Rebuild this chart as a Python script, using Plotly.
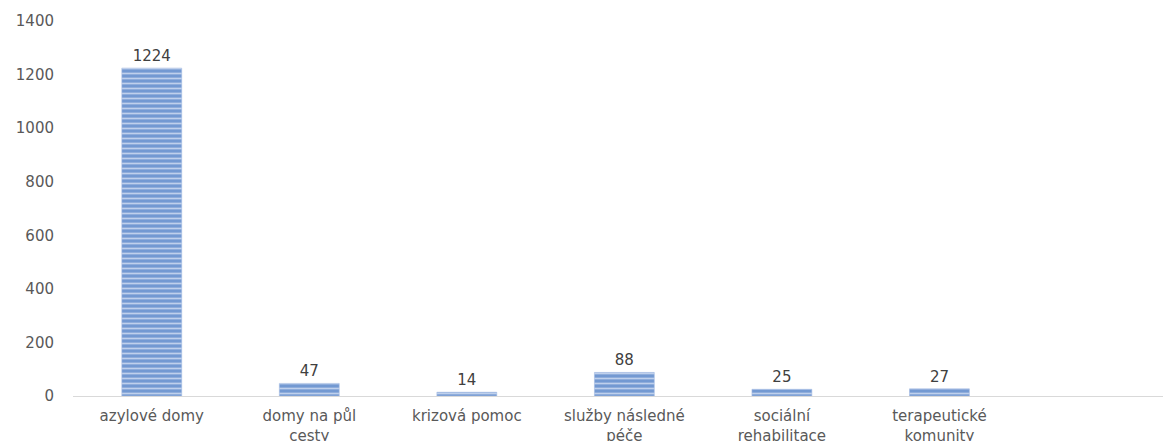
import plotly.graph_objects as go

categories = ["azylové domy", "domy na půl<br>cesty", "krizová pomoc", "služby následné<br>péče",
              "sociální<br>rehabilitace", "terapeutické<br>komunity"]
values = [1224, 47, 14, 88, 25, 27]
y_ticks = [0, 200, 400, 600, 800, 1000, 1200, 1400]

font_family = "DejaVu Sans"

fig = go.Figure()
fig.add_trace(go.Bar(
    x=categories,
    y=values,
    width=0.38,
    text=[str(v) for v in values],
    textposition="outside",
    textfont=dict(family=font_family, size=15, color="#404040"),
    cliponaxis=False,
    marker=dict(
        color="#789dd4",
        line=dict(color="#a3bbe2", width=0.6),
        pattern=dict(shape="-", bgcolor="#7399d2", fgcolor="#bfd0ec",
                     size=5, solidity=0.35, fillmode="replace"),
    ),
))

# page body has an 8px margin, so the figure is sized/offset to compensate
fig.update_layout(
    width=1163, height=433,
    margin=dict(l=65, r=0, t=13, b=45),
    paper_bgcolor="white", plot_bgcolor="white",
    showlegend=False,
    font=dict(family=font_family, size=15, color="#595959"),
)
fig.update_xaxes(
    type="category",
    range=[-0.5, 6.47],
    automargin=False,
    showline=True, linecolor="#d9d9d9", linewidth=1.2,
    showgrid=False, ticks="",
    ticklabelstandoff=6,
    tickfont=dict(family=font_family, size=15, color="#595959"),
)
fig.update_yaxes(
    range=[0, 1400],
    tickvals=y_ticks,
    automargin=False,
    showgrid=False, zeroline=False, showline=False, ticks="",
    ticklabelstandoff=18,
    tickfont=dict(family=font_family, size=15, color="#595959"),
)

fig.write_html("out.html")
